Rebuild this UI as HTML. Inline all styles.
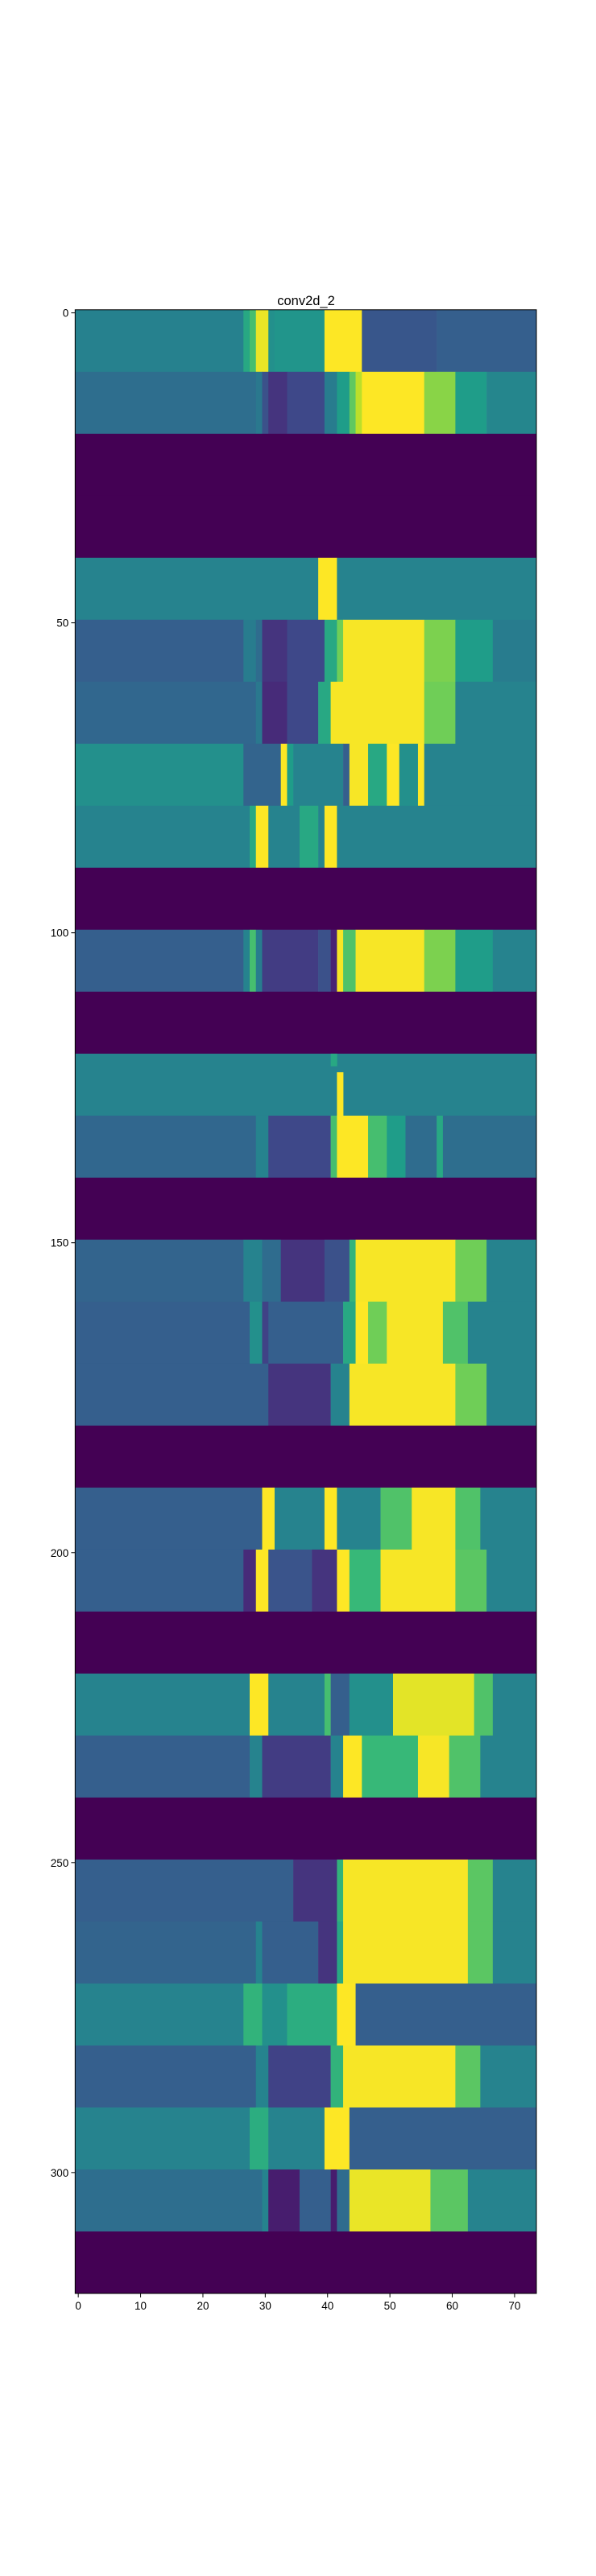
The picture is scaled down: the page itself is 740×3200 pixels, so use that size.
<!DOCTYPE html>
<html><head><meta charset="utf-8">
<style>
html,body{margin:0;padding:0;background:#fff;}
svg{display:block;}
text{font-family:"Liberation Sans","DejaVu Sans",sans-serif;fill:#000;}
</style></head>
<body>
<svg id="chart" width="740" height="3200" viewBox="0 0 740 3200" xmlns="http://www.w3.org/2000/svg">
<text x="380" y="379" font-size="16.5" text-anchor="middle">conv2d_2</text>
<g id="cells"></g>
<g id="axes"></g>
</svg>
<script>
// number of rows/cols in the activation image
const nRows = 320;
const nCols = 74;
const blockRows = 10;
// each block: list of [lastColumn, value] runs
const blocks = [
[[26,.44],[27,.6],[28,.7],[30,.97],[31,.5],[39,.52],[45,1],[57,.27],[73,.3]],
[[28,.36],[29,.4],[30,.25],[33,.15],[39,.22],[41,.42],[43,.55],[44,.75],[45,.9],[55,1],[60,.82],[65,.55],[73,.46]],
[[73,0]],
[[73,0]],
[[38,.45],[41,1],[73,.45]],
[[26,.3],[28,.42],[29,.35],[33,.15],[39,.22],[41,.6],[42,.78],[55,.99],[60,.8],[66,.55],[73,.42]],
[[28,.33],[29,.4],[33,.12],[38,.22],[40,.6],[55,.99],[60,.78],[73,.45]],
[[26,.5],[32,.32],[33,1],[34,.55],[42,.45],[43,.3],[46,.99],[49,.6],[51,1],[54,.5],[55,1],[73,.45]],
[[27,.45],[28,.6],[30,1],[35,.45],[38,.6],[39,.45],[41,1],[73,.45]],
[[73,0]],
[[26,.3],[27,.45],[28,.7],[29,.42],[38,.18],[40,.25],[41,.1],[42,.99],[44,.72],[55,.99],[60,.8],[66,.55],[73,.45]],
[[73,0]],
[[73,.45]],
[[28,.33],[30,.45],[40,.22],[41,.7],[46,1],[49,.7],[52,.55],[57,.35],[58,.6],[73,.36]],
[[73,0]],
[[26,.32],[29,.45],[32,.35],[39,.15],[43,.25],[44,.65],[60,.99],[65,.78],[73,.45]],
[[27,.3],[29,.5],[30,.2],[42,.3],[44,.6],[46,1],[49,.78],[58,.99],[62,.72],[73,.45]],
[[30,.3],[40,.15],[43,.45],[60,.99],[65,.78],[73,.45]],
[[73,0]],
[[29,.3],[31,1],[39,.45],[41,1],[48,.45],[53,.72],[60,.99],[64,.72],[73,.45]],
[[26,.3],[28,.12],[30,1],[37,.26],[41,.15],[43,1],[48,.67],[60,.99],[65,.74],[73,.45]],
[[73,0]],
[[27,.45],[30,1],[39,.45],[40,.7],[43,.3],[50,.5],[63,.96],[66,.72],[73,.45]],
[[27,.3],[29,.45],[40,.18],[42,.45],[45,1],[54,.67],[59,.99],[64,.72],[73,.45]],
[[73,0]],
[[34,.3],[41,.15],[42,.65],[62,.99],[66,.74],[73,.45]],
[[28,.32],[29,.45],[38,.3],[41,.15],[42,.6],[62,.99],[66,.74],[73,.45]],
[[26,.45],[29,.65],[33,.5],[41,.62],[44,1],[73,.3]],
[[28,.3],[30,.45],[40,.2],[42,.65],[60,.99],[64,.74],[73,.45]],
[[27,.45],[30,.62],[39,.45],[43,1],[73,.3]],
[[29,.36],[30,.45],[35,.08],[40,.3],[41,.08],[43,.35],[56,.97],[62,.74],[73,.45]],
[[73,0]]
];
// small patches: [rowStart,rowEnd,colStart,colEnd,value]
const patches = [[123,129,42,42,1],[120,121,41,41,.6]];
const xTicks = [0,10,20,30,40,50,60,70];
const yTicks = [0,50,100,150,200,250,300];

const L=93.3, R=666, T=384.8, B=2849;
const cw=(R-L)/nCols, rh=(B-T)/nRows;
function xs(c){return L+(c+0.5)*cw;}
function ys(r){return T+(r+0.5)*rh;}
const vir=["#440154","#482878","#3e4989","#31688e","#26828e","#1f9e89","#35b779","#6ece58","#b5de2b","#fde725"];
function hx(h){return [1,3,5].map(i=>parseInt(h.substr(i,2),16));}
function viridis(t){t=Math.max(0,Math.min(1,t));const p=t*9,i=Math.min(8,Math.floor(p)),f=p-i;
const a=hx(vir[i]),b=hx(vir[i+1]);return "rgb("+a.map((v,k)=>Math.round(v+(b[k]-v)*f)).join(",")+")";}
const NS="http://www.w3.org/2000/svg";
const cells=document.getElementById("cells");
function cellRect(r0,r1,c0,c1,v,name){
  const el=document.createElementNS(NS,"rect");
  el.setAttribute("x",(xs(c0)-cw/2).toFixed(2));
  el.setAttribute("y",(ys(r0)-rh/2).toFixed(2));
  el.setAttribute("width",((c1-c0+1)*cw+0.3).toFixed(2));
  el.setAttribute("height",((r1-r0+1)*rh+0.3).toFixed(2));
  el.setAttribute("fill",viridis(v));
  
  
  cells.appendChild(el);
}
blocks.forEach((runs,bi)=>{
  let start=0;
  runs.forEach(([end,v])=>{
    cellRect(bi*blockRows,bi*blockRows+blockRows-1,start,end,v,"heatmap-cell-run");
    start=end+1;
  });
});
patches.forEach(p=>cellRect(p[0],p[1],p[2],p[3],p[4],"heatmap-cell-patch"));

const axes=document.getElementById("axes");
const frame=document.createElementNS(NS,"rect");
frame.setAttribute("x",L);frame.setAttribute("y",T);
frame.setAttribute("width",R-L);frame.setAttribute("height",B-T);
frame.setAttribute("fill","none");frame.setAttribute("stroke","#000");frame.setAttribute("stroke-width","1");


axes.appendChild(frame);
xTicks.forEach(t=>{
  const x=xs(t);
  const ln=document.createElementNS(NS,"line");
  ln.setAttribute("x1",x);ln.setAttribute("x2",x);ln.setAttribute("y1",B);ln.setAttribute("y2",B+4.9);
  ln.setAttribute("stroke","#000");
  
  
  axes.appendChild(ln);
  const tx=document.createElementNS(NS,"text");
  tx.setAttribute("x",x);tx.setAttribute("y",B+20);tx.setAttribute("font-size","13.5");tx.setAttribute("text-anchor","middle");
  tx.textContent=t;
  
  
  axes.appendChild(tx);
});
yTicks.forEach(t=>{
  const y=ys(t);
  const ln=document.createElementNS(NS,"line");
  ln.setAttribute("x1",L-4.9);ln.setAttribute("x2",L);ln.setAttribute("y1",y);ln.setAttribute("y2",y);
  ln.setAttribute("stroke","#000");
  
  
  axes.appendChild(ln);
  const tx=document.createElementNS(NS,"text");
  tx.setAttribute("x",L-8);tx.setAttribute("y",y+5);tx.setAttribute("font-size","13.5");tx.setAttribute("text-anchor","end");
  tx.textContent=t;
  
  
  axes.appendChild(tx);
});
</script>
</body></html>
